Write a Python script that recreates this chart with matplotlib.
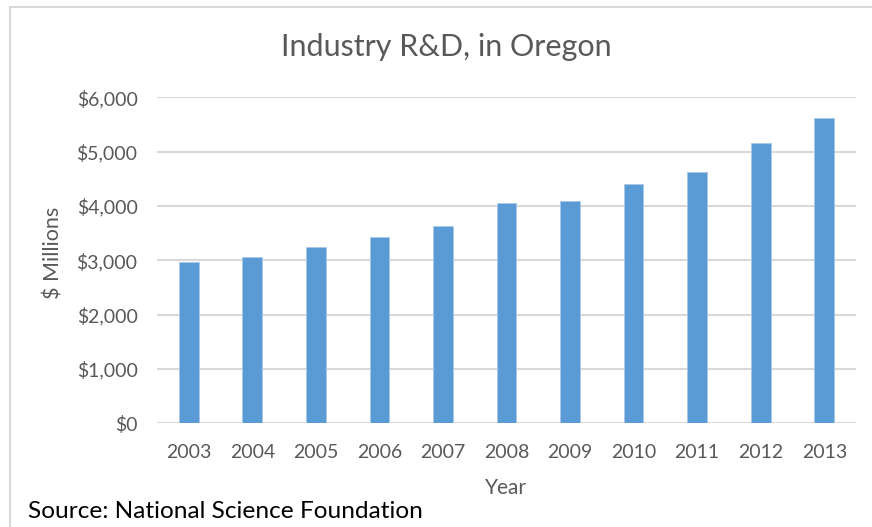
import matplotlib
matplotlib.use("Agg")
import matplotlib.pyplot as plt
from matplotlib.ticker import FuncFormatter
from matplotlib.patches import Rectangle

years = ["2003", "2004", "2005", "2006", "2007", "2008",
         "2009", "2010", "2011", "2012", "2013"]
rd_millions = [2970, 3055, 3250, 3420, 3630, 4060,
               4085, 4400, 4620, 5155, 5625]
y_ticks = [0, 1000, 2000, 3000, 4000, 5000, 6000]

plt.rcParams['font.family'] = ['Lato', 'DejaVu Sans']
gray = '#595959'

fig = plt.figure(figsize=(8.72, 5.27), dpi=100)
ax = fig.add_axes([0.180, 0.1968, 0.8017, 0.6186])

# outer chart frame (only left and top visible, rest cropped)
fig.add_artist(Rectangle((10 / 872, -0.05), 1.2, 1 - 7 / 527 + 0.05,
                         transform=fig.transFigure, fill=False,
                         edgecolor='#d9d9d9', linewidth=1.5))

x = range(len(years))
ax.bar(x, rd_millions, width=0.31, color='#5b9bd5',
       edgecolor='#a9c8ea', linewidth=0.6, zorder=3)

ax.set_xlim(-0.5, len(years) - 0.5)
ax.set_ylim(0, 6000)
ax.set_yticks(y_ticks)
ax.yaxis.set_major_formatter(FuncFormatter(lambda v, p: f"${v:,.0f}"))
ax.set_xticks(list(x))
ax.set_xticklabels(years)

ax.grid(axis='y', color='#d9d9d9', linewidth=1.5, zorder=0)
for s in ['top', 'right', 'left', 'bottom']:
    ax.spines[s].set_visible(False)
ax.tick_params(axis='both', length=0, colors=gray, labelsize=14)
ax.tick_params(axis='x', pad=15)
ax.tick_params(axis='y', pad=14)

fig.text(54 / 872, 1 - 253 / 527, '$ Millions', rotation=90, ha='center',
         va='center', color=gray, fontsize=15.5)
fig.text(506 / 872, 1 - 488 / 527, 'Year', ha='center',
         va='center', color=gray, fontsize=15)
fig.text(446 / 872, 1 - 47 / 527, 'Industry R&D, in Oregon', ha='center',
         va='center', color=gray, fontsize=22)
fig.text(28 / 872, 1 - 511 / 527, 'Source: National Science Foundation',
         ha='left', va='center', color='black', fontsize=17.6)

fig.savefig('out.png', dpi=100)
